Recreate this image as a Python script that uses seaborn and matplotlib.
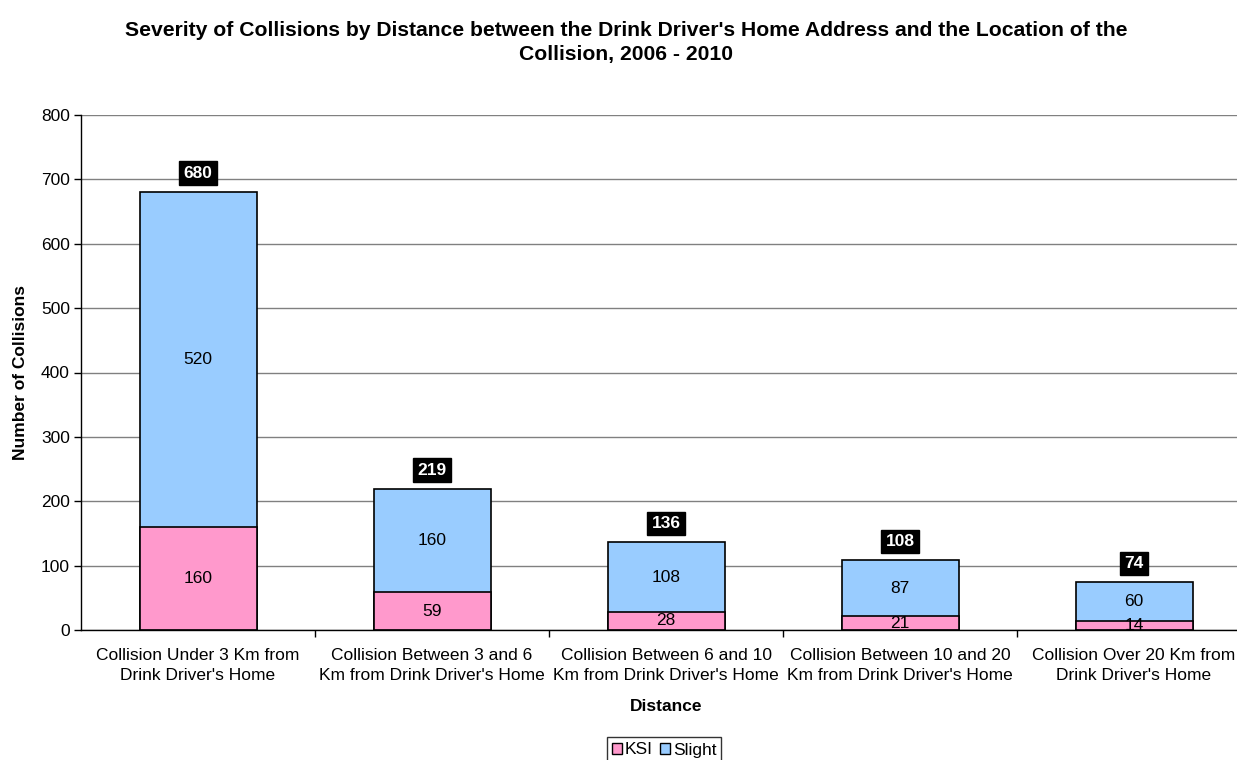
import matplotlib
matplotlib.use("Agg")
import matplotlib.pyplot as plt
import seaborn as sns
import pandas as pd
import numpy as np
from matplotlib.patches import Patch

categories = [
    "Collision Under 3 Km from\nDrink Driver's Home",
    "Collision Between 3 and 6\nKm from Drink Driver's Home",
    "Collision Between 6 and 10\nKm from Drink Driver's Home",
    "Collision Between 10 and 20\nKm from Drink Driver's Home",
    "Collision Over 20 Km from\nDrink Driver's Home",
]
ksi = [160, 59, 28, 21, 14]
slight = [520, 160, 108, 87, 60]
totals = [k + s for k, s in zip(ksi, slight)]

ksi_color = "#FF99CC"
slight_color = "#99CCFF"

sns.set_theme(style="white")
plt.rcParams["font.family"] = ["Liberation Sans", "DejaVu Sans"]
plt.rcParams.update({"text.color": "black", "axes.labelcolor": "black",
                     "xtick.color": "black", "ytick.color": "black"})

df = pd.DataFrame({"Distance": categories, "KSI": ksi, "Slight": slight, "Total": totals})

fig = plt.figure(figsize=(12.37, 7.6), dpi=100)
ax = fig.add_axes([81 / 1237, 130 / 760, 1170 / 1237, 515 / 760])

# Stacked bars: full totals in the Slight colour, KSI drawn over the lower part
sns.barplot(data=df, x="Distance", y="Total", color=slight_color, width=0.5,
            edgecolor="black", linewidth=1.2, saturation=1, ax=ax)
sns.barplot(data=df, x="Distance", y="KSI", color=ksi_color, width=0.5,
            edgecolor="black", linewidth=1.2, saturation=1, ax=ax)

ax.set_xlim(-0.5, 4.5)
ax.set_ylim(0, 800)
ax.set_yticks(np.arange(0, 801, 100))
ax.yaxis.grid(True, color="#808080", linewidth=1)
ax.set_axisbelow(True)
for s in ["top", "right"]:
    ax.spines[s].set_visible(False)
for s in ["left", "bottom"]:
    ax.spines[s].set_color("black")
    ax.spines[s].set_linewidth(1)

ax.tick_params(axis="y", which="major", left=True, length=5, width=1, color="black",
               labelsize=12.5, pad=3)
ax.set_xticks(range(len(categories)))
ax.set_xticklabels(categories, fontsize=12.5, linespacing=1.45)
ax.tick_params(axis="x", which="major", bottom=False, pad=7)
ax.set_xticks(np.arange(0.5, 4.6, 1), minor=True)
ax.tick_params(axis="x", which="minor", bottom=True, length=5, width=1, color="black")

ax.set_xlabel("Distance", fontsize=12.5, fontweight="bold", labelpad=11)
ax.set_ylabel("Number of Collisions", fontsize=12.5, fontweight="bold", labelpad=9)

# Segment values and black total boxes
for i, (k, s, t) in enumerate(zip(ksi, slight, totals)):
    ax.text(i, k / 2, str(k), ha="center", va="center", fontsize=12.5)
    ax.text(i, k + s / 2, str(s), ha="center", va="center", fontsize=12.5)
    ax.annotate(str(t), xy=(i, t), xytext=(0, 19), textcoords="offset pixels",
                ha="center", va="center", fontsize=12.5, fontweight="bold", color="white",
                bbox=dict(boxstyle="square,pad=0.25", facecolor="black", edgecolor="black"))

fig.text(0.506, 0.972, "Severity of Collisions by Distance between the Drink Driver's Home Address and the Location of the\nCollision, 2006 - 2010",
         ha="center", va="top", fontsize=15.2, fontweight="bold", linespacing=1.3)

handles = [Patch(facecolor=ksi_color, edgecolor="black", label="KSI"),
           Patch(facecolor=slight_color, edgecolor="black", label="Slight")]
leg = fig.legend(handles=handles, loc="center", bbox_to_anchor=(664 / 1237, 1 - 750 / 760),
                 ncol=2, frameon=True, fontsize=12.5, handlelength=0.6, handleheight=0.6,
                 handletextpad=0.15, columnspacing=0.4, borderpad=0.3, borderaxespad=0,
                 fancybox=False, edgecolor="black")
leg.get_frame().set_linewidth(1)

fig.savefig("out.png", dpi=100)
